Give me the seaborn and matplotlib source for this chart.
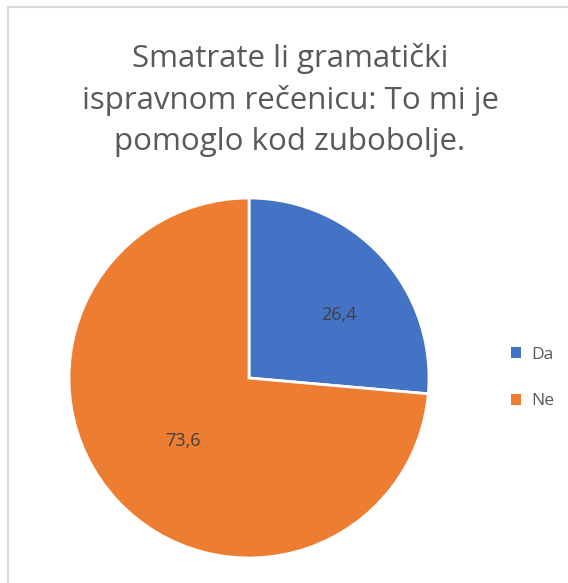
import matplotlib.pyplot as plt
import seaborn as sns
from matplotlib.patches import Rectangle, Patch

categories = ["Da", "Ne"]
values = [26.4, 73.6]
value_labels = ["26,4", "73,6"]
colors = ["#4472C4", "#ED7D31"]
title = "Smatrate li gramatički\nispravnom rečenicu: To mi je\npomoglo kod zubobolje."

sns.set_style("white")
plt.rcParams['font.family'] = ['Open Sans', 'DejaVu Sans']

W, H = 568, 583
fig = plt.figure(figsize=(W / 100, H / 100), dpi=100)

# frame around chart area (right and bottom edges fall outside the image)
fig.patches.append(Rectangle((8 / W, -0.1), 1.2, 1.1 - 7 / H, transform=fig.transFigure,
                             fill=False, edgecolor="#D9D9D9", linewidth=1.5))

# pie axes: center (249, 378), radius ~179 px
r = 180
ax = fig.add_axes([(249 - r) / W, 1 - (378 + r) / H, 2 * r / W, 2 * r / H])
wedges, texts = ax.pie(values, colors=colors, startangle=90, counterclock=False,
                       wedgeprops=dict(edgecolor="white", linewidth=2))
ax.set_xlim(-1, 1)
ax.set_ylim(-1, 1)
ax.set_aspect("auto")
ax.axis("off")

# value labels inside the slices
ax.text(0.50, 0.35, value_labels[0], ha="center", va="center", fontsize=13, color="#404040")
ax.text(-0.37, -0.35, value_labels[1], ha="center", va="center", fontsize=13, color="#404040")

fig.text(290 / W, 1 - 100 / H, title, ha="center", va="center", fontsize=22.5,
         color="#595959", linespacing=1.45)

handles = [Patch(facecolor=c, edgecolor="none") for c in colors]
fig.legend(handles, categories, loc="center left", bbox_to_anchor=(495 / W, 1 - 378 / H),
           frameon=False, fontsize=12.5, handlelength=0.6, handleheight=0.6,
           labelspacing=1.75, handletextpad=0.6, labelcolor="#595959")

fig.savefig("out.png", dpi=100)
